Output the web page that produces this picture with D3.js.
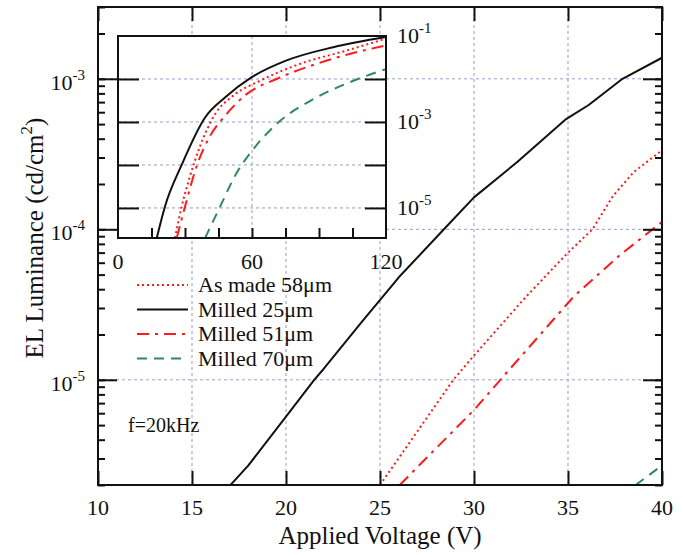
<!DOCTYPE html>
<html>
<head>
<meta charset="utf-8">
<script src="https://cdn.jsdelivr.net/npm/d3@7"></script>
<style>
body { margin: 0; background: #fff; }
svg text { font-family: "Liberation Serif", "Times New Roman", serif; fill: #111; }
</style>
</head>
<body>
<svg id="chart" width="684" height="557"></svg>
<script>
// main plot data (voltage V, luminance cd/cm2)
var milled25 = [[17.0, 1.97e-6], [18.0, 2.7e-6], [20.0, 5.7e-6], [21.5, 1.0e-5], [22, 1.18e-5], [24, 2.4e-5],
  [26, 4.8e-5], [28.4, 1.0e-4], [30, 1.63e-4], [32.3, 2.8e-4], [34.9, 5.4e-4], [36.1, 6.7e-4], [37.9, 1.0e-3], [40, 1.38e-3]];
var asMade58 = [[25.0, 2.0e-6], [28.9, 1.0e-5], [30, 1.45e-5], [32.8, 3.6e-5], [34.9, 6.8e-5], [36.3, 1.0e-4],
  [37.4, 1.67e-4], [38.5, 2.4e-4], [40, 3.35e-4]];
var milled51 = [[26.05, 2.0e-6], [30.0, 6.3e-6], [31.4, 1.0e-5], [35.3, 3.57e-5], [37.8, 6.8e-5], [40, 1.12e-4]];
var milled70 = [[38.6, 2.0e-6], [40, 2.7e-6]];

// inset data, 0-120 V
var inMilled25 = [[17.3, 1.95e-6], [21.0, 1.07e-5], [28.5, 1.0e-4], [39, 1.27e-3], [47.9, 3.7e-3], [59.9, 1.1e-2],
  [75.5, 2.7e-2], [96.4, 5.5e-2], [120, 9.5e-2]];
var inAsMade58 = [[25.5, 2.0e-6], [28.5, 1.07e-5], [32.2, 5.4e-5], [36.7, 2.7e-4], [43.4, 1.5e-3], [51.6, 4.1e-3],
  [63.6, 9.1e-3], [81.5, 2.25e-2], [102.4, 4.6e-2], [120, 8.7e-2]];
var inMilled51 = [[26.3, 2.0e-6], [30, 1.07e-5], [35.2, 9.3e-5], [41.2, 4.7e-4], [47.9, 1.38e-3], [57.6, 4.45e-3],
  [71, 1.0e-2], [88.9, 2.25e-2], [109.9, 4.6e-2], [120, 6.0e-2]];
var inMilled70 = [[39, 2.0e-6], [45.7, 1.07e-5], [53.1, 6.5e-5], [59.9, 2.1e-4], [72.5, 1.05e-3], [87.5, 3.4e-3],
  [105.4, 9.1e-3], [120, 1.7e-2]];

var xTicks = [10, 15, 20, 25, 30, 35, 40];
var yTicks = [1e-3, 1e-4, 1e-5];
var insetXTicks = [0, 60, 120];
var insetYTicks = [1e-1, 1e-3, 1e-5];
var seriesNames = ["As made 58\u03bcm", "Milled 25\u03bcm", "Milled 51\u03bcm", "Milled 70\u03bcm"];

var styles = {
  asMade58: { color: "#ff1a1a", dash: "2,3" },
  milled25: { color: "#111", dash: null },
  milled51: { color: "#ff1a1a", dash: "12,6,3,6" },
  milled70: { color: "#2e8b57", dash: "10,7" }
};
var gridColor = "#9a9ad6";

var svg = d3.select("#chart");

var x = d3.scaleLinear().domain([10, 40]).range([98, 662]);
var y = d3.scaleLog().domain([2e-6, 3e-3]).range([485, 7]);

svg.append("defs").append("clipPath").attr("id", "mainclip")
  .append("rect").attr("x", 98).attr("y", 7).attr("width", 564).attr("height", 478);

// grid
var grid = svg.append("g");
grid.selectAll(".gx").data(xTicks.slice(1, -1)).enter().append("line")
  .attr("x1", x).attr("x2", x).attr("y1", 7).attr("y2", 485)
  .attr("stroke", gridColor).attr("stroke-dasharray", "3,3");
grid.selectAll(".gy").data(yTicks).enter().append("line")
  .attr("y1", y).attr("y2", y).attr("x1", 98).attr("x2", 662)
  .attr("stroke", gridColor).attr("stroke-dasharray", "3,3");

var line = d3.line()
  .x(function(d) { return x(d[0]); }).y(function(d) { return y(d[1]); });

var curves = svg.append("g").attr("clip-path", "url(#mainclip)");
function addCurve(g, data, st, gen) {
  g.append("path").datum(data)
    .attr("d", gen)
    .attr("fill", "none")
    .attr("stroke", st.color)
    .attr("stroke-width", 2)
    .attr("stroke-linejoin", "round")
    .attr("stroke-dasharray", st.dash);
}
addCurve(curves, milled25, styles.milled25, line);
addCurve(curves, asMade58, styles.asMade58, line);
addCurve(curves, milled51, styles.milled51, line);
addCurve(curves, milled70, styles.milled70, line);

// minor log ticks
var minor = [];
for (var k = -6; k <= -3; k++) {
  for (var m = 1; m <= 9; m++) {
    var v = m * Math.pow(10, k);
    if (v >= 2e-6 && v <= 3e-3) minor.push(v);
  }
}

var axes = svg.append("g");
axes.append("g").attr("transform", "translate(98,0)")
  .call(d3.axisRight(y).tickValues(minor).tickSize(7).tickFormat(""));
axes.append("g").attr("transform", "translate(98,0)")
  .call(d3.axisRight(y).tickValues(yTicks).tickSize(19).tickFormat(""));
axes.append("g").attr("transform", "translate(662,0)")
  .call(d3.axisLeft(y).tickValues(minor).tickSize(7).tickFormat(""));
axes.append("g").attr("transform", "translate(662,0)")
  .call(d3.axisLeft(y).tickValues(yTicks).tickSize(19).tickFormat(""));
axes.append("g").attr("transform", "translate(0,485)")
  .call(d3.axisTop(x).tickValues(xTicks).tickSize(14).tickFormat(""));
axes.append("g").attr("transform", "translate(0,7)")
  .call(d3.axisBottom(x).tickValues(xTicks).tickSize(14).tickFormat(""));
axes.selectAll("path.domain").remove();
axes.selectAll("line").attr("stroke", "#111").attr("stroke-width", 2);

svg.append("rect").attr("x", 98).attr("y", 7).attr("width", 564).attr("height", 478)
  .attr("fill", "none").attr("stroke", "#111").attr("stroke-width", 2);

// tick labels
svg.selectAll(".xl").data(xTicks).enter().append("text")
  .attr("x", x).attr("y", 515).attr("text-anchor", "middle")
  .style("font-size", "22px").text(function(d) { return d; });

function powLabel(g, v, px, py, anchor) {
  var t = g.append("text").attr("x", px).attr("y", py).attr("text-anchor", anchor).style("font-size", "22px");
  t.append("tspan").text("10");
  t.append("tspan").attr("dy", -10).style("font-size", "15px").text(Math.round(Math.log10(v)));
}
yTicks.forEach(function(v) { powLabel(svg, v, 85, y(v) + 11, "end"); });

svg.append("text").attr("x", 380).attr("y", 544).attr("text-anchor", "middle")
  .style("font-size", "25px").text("Applied Voltage (V)");

var yl = svg.append("text").attr("transform", "translate(43,238) rotate(-90)")
  .attr("text-anchor", "middle").style("font-size", "25px");
yl.append("tspan").text("EL Luminance (cd/cm");
yl.append("tspan").attr("dy", -11).style("font-size", "17px").text("2");
yl.append("tspan").attr("dy", 11).text(")");

svg.append("text").attr("x", 128).attr("y", 432).style("font-size", "20px").text("f=20kHz");

// legend
var legendKeys = ["asMade58", "milled25", "milled51", "milled70"];
var leg = svg.append("g");
legendKeys.forEach(function(key, i) {
  var ly = 285 + i * 24.5;
  leg.append("line").attr("x1", 137).attr("x2", 188).attr("y1", ly).attr("y2", ly)
    .attr("stroke", styles[key].color).attr("stroke-width", 2)
    .attr("stroke-dasharray", styles[key].dash);
  leg.append("text").attr("x", 198).attr("y", ly + 7).style("font-size", "22px").text(seriesNames[i]);
});

// inset
var ix = d3.scaleLinear().domain([0, 120]).range([118, 386]);
var iy = d3.scaleLog().domain([2e-6, 1e-1]).range([238, 36]);
var inset = svg.append("g");
inset.append("rect").attr("x", 118).attr("y", 36).attr("width", 268).attr("height", 202).attr("fill", "#fff");
svg.select("defs").append("clipPath").attr("id", "insetclip")
  .append("rect").attr("x", 118).attr("y", 36).attr("width", 268).attr("height", 202);

var insetGridY = [1e-2, 1e-3, 1e-4, 1e-5];
inset.selectAll(".igy").data(insetGridY).enter().append("line")
  .attr("x1", 118).attr("x2", 386).attr("y1", iy).attr("y2", iy)
  .attr("stroke", gridColor).attr("stroke-dasharray", "3,3");
inset.append("line").attr("x1", ix(60)).attr("x2", ix(60)).attr("y1", 36).attr("y2", 238)
  .attr("stroke", gridColor).attr("stroke-dasharray", "3,3");

var iline = d3.line().curve(d3.curveMonotoneX)
  .x(function(d) { return ix(d[0]); }).y(function(d) { return iy(d[1]); });
var icurves = inset.append("g").attr("clip-path", "url(#insetclip)");
addCurve(icurves, inMilled25, styles.milled25, iline);
addCurve(icurves, inAsMade58, styles.asMade58, iline);
addCurve(icurves, inMilled51, styles.milled51, iline);
addCurve(icurves, inMilled70, styles.milled70, iline);

var iaxes = inset.append("g");
iaxes.append("g").attr("transform", "translate(118,0)")
  .call(d3.axisRight(iy).tickValues(insetGridY).tickSize(21).tickFormat(""));
iaxes.append("g").attr("transform", "translate(386,0)")
  .call(d3.axisLeft(iy).tickValues(insetGridY).tickSize(21).tickFormat(""));
iaxes.append("g").attr("transform", "translate(0,238)")
  .call(d3.axisTop(ix).tickValues(d3.range(15, 120, 15)).tickSize(10).tickFormat(""));
iaxes.selectAll("path.domain").remove();
iaxes.selectAll("line").attr("stroke", "#111").attr("stroke-width", 2);
inset.append("rect").attr("x", 118).attr("y", 36).attr("width", 268).attr("height", 202)
  .attr("fill", "none").attr("stroke", "#111").attr("stroke-width", 2);

inset.selectAll(".ixl").data(insetXTicks).enter().append("text")
  .attr("x", ix).attr("y", 269).attr("text-anchor", "middle")
  .style("font-size", "22px").text(function(d) { return d; });
insetYTicks.forEach(function(v) { powLabel(inset, v, 397, iy(v) + 7, "start"); });
</script>
</body>
</html>
